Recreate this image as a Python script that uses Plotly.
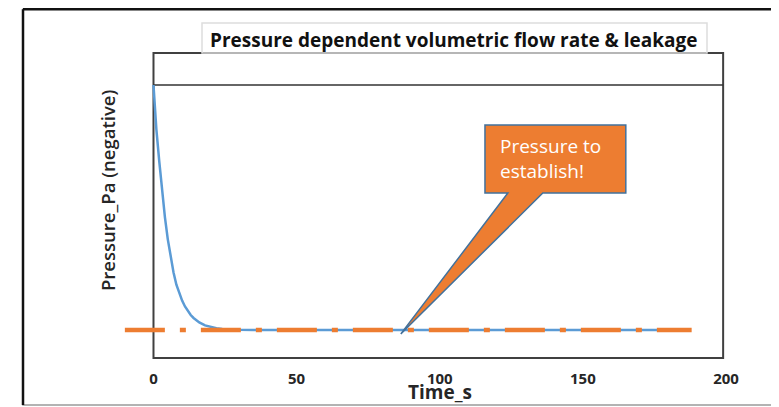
import plotly.graph_objects as go

# ---- data ----
time_s = [0, 1, 2, 3, 4, 5, 6, 7, 8, 9, 10, 11, 12, 13, 14, 15, 16, 18, 20, 22, 24, 26, 28, 30, 35, 40,
          60, 80, 100, 120, 140, 160, 185]
pressure = [100, 82, 69, 56, 46, 37, 30, 23.5, 18.5, 15, 12, 9.6, 7.7, 6.1, 4.9, 3.9, 3.1, 1.9, 1.2,
            0.75, 0.45, 0.28, 0.17, 0.1, 0.03, 0, 0, 0, 0, 0, 0, 0, 0]
target_time = [-10, 188]
target_pressure = [0, 0]
x_ticks = [0, 50, 100, 150, 200]

title_text = "Pressure dependent volumetric flow rate & leakage"
x_title = "Time_s"
y_title = "Pressure_Pa (negative)"
callout_text = "Pressure to<br>establish!"

BLUE = "#5B9BD5"
ORANGE = "#ED7D31"
FONT = "Open Sans"

# page has an 8px body margin, so the figure is drawn 8px smaller and offset
OFF = 8
W, H = 779 - OFF, 407 - OFF
L_ref, R_ref, T_ref, B_ref = 122, 726, 53, 358   # plot area in reference pixels
L, T = L_ref - OFF, T_ref - OFF
R = W - (R_ref - OFF)
B = H - (B_ref - OFF)
pw, ph = R_ref - L_ref, B_ref - T_ref


def px(xp):
    return (xp - L_ref) / pw


def py(yp):
    return (B_ref - yp) / ph


fig = go.Figure()
fig.add_trace(go.Scatter(x=time_s, y=pressure, mode="lines",
                         line=dict(color=BLUE, width=2.5), hoverinfo="skip", showlegend=False))
fig.add_trace(go.Scatter(x=target_time, y=target_pressure, mode="lines",
                         line=dict(color=ORANGE, width=4.5, dash="40px,15px,6px,15px"),
                         hoverinfo="skip", showlegend=False))

shapes = []
# plot frame
shapes.append(dict(type="rect", xref="x", yref="paper", x0=0, x1=199, y0=0, y1=1,
                   line=dict(color="#404040", width=2), layer="below"))
# inner top line
shapes.append(dict(type="line", xref="x", yref="y", x0=0, x1=199, y0=100, y1=100,
                   line=dict(color="#333333", width=1.5), layer="below"))
# callout
shapes.append(dict(type="path", xref="x", yref="y",
                   path="M 115.8,83.7 L 165,83.7 L 165,55.9 L 136,55.9 L 86.4,-1.6 L 123.8,55.9 L 115.8,55.9 Z",
                   fillcolor=ORANGE, line=dict(color="#41719C", width=1.5), layer="above"))
# title box
shapes.append(dict(type="rect", xref="paper", yref="paper", x0=px(202), x1=px(707), y0=py(53), y1=py(23),
                   line=dict(color="#dddddd", width=1.5), fillcolor="rgba(0,0,0,0)", layer="below"))
# outer frame (top edge kept just inside the drawable area)
TOP = 9.3
shapes.append(dict(type="rect", xref="paper", yref="paper", x0=px(23), x1=px(776), y0=py(405), y1=py(TOP),
                   line=dict(color="#9a9a9a", width=1.5)))
shapes.append(dict(type="line", xref="paper", yref="paper", x0=px(23), x1=px(23), y0=py(405), y1=py(TOP),
                   line=dict(color="#111111", width=2.5)))
shapes.append(dict(type="line", xref="paper", yref="paper", x0=px(23), x1=px(776), y0=py(TOP), y1=py(TOP),
                   line=dict(color="#111111", width=2.5)))

annotations = [
    dict(text=title_text, xref="paper", yref="paper", x=px(454), y=py(40), showarrow=False,
         xanchor="center", yanchor="middle", font=dict(family=FONT, size=19, color="#111111", weight="bold")),
    dict(text=x_title, xref="paper", yref="paper", x=px(440), y=py(392), showarrow=False,
         xanchor="center", yanchor="middle", font=dict(family=FONT, size=19, color="#262626", weight="bold")),
    dict(text=y_title, xref="paper", yref="paper", x=px(107), y=py(191), showarrow=False, textangle=-90,
         xanchor="center", yanchor="middle", font=dict(family=FONT, size=18.5, color="#262626", weight=600)),
    dict(text=callout_text, xref="x", yref="y", x=120.5, y=70, showarrow=False, align="left",
         xanchor="left", yanchor="middle", font=dict(family=FONT, size=19, color="white")),
]

fig.update_layout(
    width=W, height=H, margin=dict(l=L, r=R, t=T, b=B),
    paper_bgcolor="white", plot_bgcolor="white",
    shapes=shapes, annotations=annotations,
    xaxis=dict(range=[-11, 200], tickvals=x_ticks, showgrid=False, zeroline=False, showline=False,
               ticks="outside", ticklen=7, tickcolor="rgba(0,0,0,0)",
               tickfont=dict(family=FONT, size=15, color="#262626", weight="bold"), fixedrange=True),
    yaxis=dict(range=[-11.43, 113.06], showgrid=False, zeroline=False, showline=False,
               showticklabels=False, ticks="", fixedrange=True),
)

fig.write_html("out.html")
